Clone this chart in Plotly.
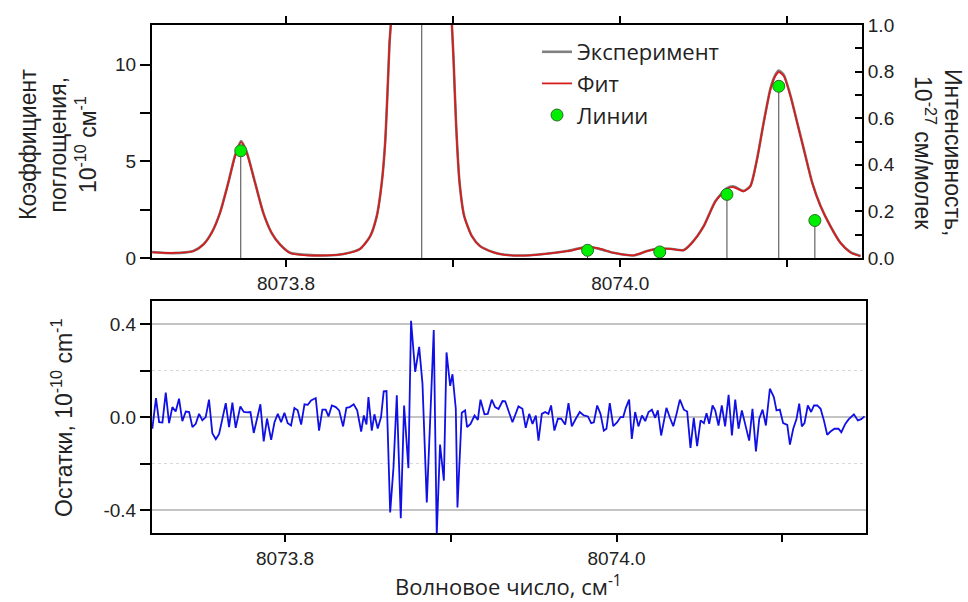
import plotly.graph_objects as go

# ---------------- data ----------------
fit_wn = [8073.7199, 8073.7325, 8073.7445, 8073.7505, 8073.7555, 8073.7605, 8073.7655, 8073.7695,
          8073.7731, 8073.7765, 8073.7814, 8073.7864, 8073.7914, 8073.7964, 8073.8024, 8073.8124,
          8073.8244, 8073.8343, 8073.8443, 8073.8503, 8073.8543, 8073.8573, 8073.8593, 8073.8607,
          8073.8619, 8073.8627, 8073.8653, 8073.8713, 8073.8813, 8073.8910, 8073.8964, 8073.8992,
          8073.9002, 8073.9018, 8073.9038, 8073.9066, 8073.9112, 8073.9162, 8073.9241, 8073.9281,
          8073.9401, 8073.9541, 8073.9681, 8073.9804, 8073.9880, 8073.9960, 8074.0080, 8074.0160,
          8074.0235, 8074.0299, 8074.0379, 8074.0429, 8074.0499, 8074.0569, 8074.0639, 8074.0679,
          8074.0738, 8074.0778, 8074.0818, 8074.0858, 8074.0898, 8074.0928, 8074.0948, 8074.0978,
          8074.1018, 8074.1058, 8074.1098, 8074.1148, 8074.1198, 8074.1257, 8074.1317, 8074.1377,
          8074.1437]
fit_val = [0.29, 0.26, 0.35, 0.69, 1.30, 2.33, 3.90, 5.27,
           5.99, 5.44, 3.90, 2.33, 1.30, 0.69, 0.26, 0.14,
           0.14, 0.20, 0.47, 1.12, 2.16, 3.90, 5.96, 8.55,
           11.1, 12.1, 16.0, 30.0, 45.0, 30.0, 16.0, 12.1,
           10.3, 6.8, 3.9, 2.16, 1.12, 0.60, 0.29, 0.20,
           0.12, 0.20, 0.35, 0.57, 0.47, 0.26, 0.14, 0.35,
           0.48, 0.47, 0.40, 0.78, 1.64, 2.92, 3.58, 3.66,
           3.45, 3.71, 5.10, 7.00, 8.72, 9.41, 9.62, 9.41,
           8.38, 7.00, 5.61, 3.89, 2.68, 1.64, 0.78, 0.29,
           0.09]
exp_val = [0.31, 0.25, 0.36, 0.70, 1.31, 2.35, 3.92, 5.30,
           6.05, 5.47, 3.92, 2.33, 1.29, 0.70, 0.27, 0.16,
           0.13, 0.21, 0.48, 1.12, 2.18, 3.92, 5.98, 8.57,
           11.1, 12.1, 16.0, 30.0, 45.0, 30.0, 16.0, 12.1,
           10.3, 6.8, 3.92, 2.17, 1.13, 0.61, 0.30, 0.21,
           0.13, 0.21, 0.36, 0.58, 0.46, 0.27, 0.13, 0.36,
           0.49, 0.48, 0.41, 0.79, 1.65, 2.95, 3.62, 3.70,
           3.47, 3.72, 5.12, 7.03, 8.76, 9.48, 9.70, 9.47,
           8.40, 7.02, 5.63, 3.90, 2.69, 1.65, 0.79, 0.30,
           0.10]

line_wn = [8073.7729, 8073.8812, 8073.9804, 8074.0236, 8074.0638, 8074.0948, 8074.1164]
line_int = [0.46, 2.0, 0.033, 0.026, 0.273, 0.737, 0.161]

res_wn = [8073.7199, 8073.7221, 8073.7240, 8073.7260, 8073.7280, 8073.7300, 8073.7320, 8073.7340,
          8073.7360, 8073.7380, 8073.7401, 8073.7421, 8073.7441, 8073.7461, 8073.7481, 8073.7501,
          8073.7521, 8073.7541, 8073.7561, 8073.7582, 8073.7602, 8073.7622, 8073.7642, 8073.7662,
          8073.7682, 8073.7702, 8073.7730, 8073.7751, 8073.7771, 8073.7791, 8073.7811, 8073.7851,
          8073.7871, 8073.7891, 8073.7916, 8073.7936, 8073.7956, 8073.7976, 8073.7996, 8073.8016,
          8073.8036, 8073.8056, 8073.8076, 8073.8097, 8073.8117, 8073.8137, 8073.8157, 8073.8185,
          8073.8205, 8073.8225, 8073.8245, 8073.8262, 8073.8282, 8073.8306, 8073.8326, 8073.8350,
          8073.8370, 8073.8390, 8073.8414, 8073.8435, 8073.8459, 8073.8475, 8073.8491, 8073.8503,
          8073.8523, 8073.8539, 8073.8559, 8073.8579, 8073.8595, 8073.8612, 8073.8634, 8073.8654,
          8073.8674, 8073.8698, 8073.8718, 8073.8744, 8073.8760, 8073.8785, 8073.8809, 8073.8829,
          8073.8855, 8073.8881, 8073.8897, 8073.8915, 8073.8935, 8073.8958, 8073.8974, 8073.8996,
          8073.9010, 8073.9030, 8073.9040, 8073.9066, 8073.9086, 8073.9098, 8073.9119, 8073.9143,
          8073.9163, 8073.9179, 8073.9203, 8073.9223, 8073.9247, 8073.9267, 8073.9288, 8073.9312,
          8073.9328,
          8073.9372, 8073.9408, 8073.9432, 8073.9452, 8073.9473, 8073.9493, 8073.9513, 8073.9529,
          8073.9549, 8073.9569, 8073.9589, 8073.9605, 8073.9625, 8073.9646, 8073.9666, 8073.9690,
          8073.9710, 8073.9730, 8073.9754, 8073.9778, 8073.9802, 8073.9827, 8073.9847, 8073.9863,
          8073.9883, 8073.9903, 8073.9923, 8073.9939, 8073.9959, 8073.9980, 8074.0004, 8074.0024,
          8074.0040, 8074.0056, 8074.0076, 8074.0092, 8074.0112, 8074.0132, 8074.0153, 8074.0173,
          8074.0193, 8074.0213, 8074.0233, 8074.0249, 8074.0269, 8074.0301, 8074.0322, 8074.0342,
          8074.0362, 8074.0382, 8074.0406, 8074.0426, 8074.0446, 8074.0466, 8074.0486, 8074.0507,
          8074.0527, 8074.0543, 8074.0559, 8074.0579, 8074.0595, 8074.0615, 8074.0635, 8074.0655,
          8074.0676, 8074.0696, 8074.0716, 8074.0736, 8074.0756, 8074.0780, 8074.0800, 8074.0820,
          8074.0841, 8074.0861, 8074.0881, 8074.0901, 8074.0925, 8074.0949, 8074.0965, 8074.0985,
          8074.1005, 8074.1030, 8074.1046, 8074.1066, 8074.1086, 8074.1102, 8074.1118, 8074.1134,
          8074.1154, 8074.1174, 8074.1191, 8074.1211, 8074.1231, 8074.1251, 8074.1271, 8074.1291,
          8074.1315, 8074.1339, 8074.1356, 8074.1380, 8074.1400, 8074.1432, 8074.1456, 8074.1476,
          8074.1496]
res_val = [-0.050, 0.082, -0.022, -0.023, 0.105, -0.026, 0.043, 0.024,
           0.079, -0.017, 0.024, 0.022, -0.043, -0.029, 0.014, -0.014,
           0.000, 0.075, -0.069, -0.095, -0.072, -0.007, 0.060, -0.043,
           0.062, -0.046, 0.046, 0.022, 0.020, 0.022, -0.068, 0.055,
           -0.104, -0.006, -0.098, -0.022, 0.014, -0.022, 0.019, -0.026,
           -0.036, 0.039, 0.029, -0.032, 0.055, 0.053, 0.072, 0.082,
           -0.058, 0.032, 0.032, 0.003, 0.050, 0.043, 0.029, -0.040,
           0.040, 0.043, 0.055, 0.029, -0.062, 0.007, -0.032, 0.086,
           -0.058, 0.012, -0.049, 0.000, 0.111, 0.112, -0.410, -0.216,
           0.094, -0.435, 0.050, -0.219, 0.414, 0.194, 0.302, 0.144,
           -0.367, 0.086, 0.374, -0.504, -0.118, -0.273, 0.278, 0.134,
           0.184, 0.036, -0.388, 0.019, 0.029, -0.043, -0.029, 0.007,
           -0.012, 0.075, 0.012, 0.014, 0.075, 0.043, 0.035, 0.069,
           0.068,
           -0.022, 0.046, 0.036, -0.046, 0.014, -0.029, 0.007, -0.101,
           0.014, 0.022, 0.014, 0.050, -0.058, -0.007, -0.007, -0.032,
           0.060, -0.040, -0.007, 0.022, 0.007, 0.003, -0.026, -0.022,
           0.050, 0.014, -0.058, -0.050, 0.060, -0.039, -0.022, 0.000,
           0.000, 0.040, 0.075, -0.094, 0.022, -0.040, 0.007, -0.017,
           0.022, 0.032, -0.003, 0.029, -0.079, 0.040, -0.003, -0.039,
           0.014, 0.075, 0.032, 0.024, -0.132, -0.003, -0.125, -0.014,
           -0.026, 0.017, -0.029, 0.050, 0.029, -0.036, 0.050, -0.040,
           0.096, -0.079, 0.075, -0.050, 0.029, -0.036, -0.101, 0.036,
           -0.147, -0.007, 0.032, -0.036, 0.122, 0.086, 0.029, 0.032,
           -0.026, -0.033, -0.118, -0.050, -0.007, 0.058, -0.040, -0.026,
           0.050, 0.022, 0.050, 0.050, 0.036, -0.014, -0.076, -0.062,
           -0.050, -0.050, -0.065, -0.029, -0.010, 0.012, -0.014, -0.009,
           0.003]

x_tick_vals = [8073.8, 8074.0]
x_tick_text = ["8073.8", "8074.0"]
res_tick_vals = [-0.4, 0.0, 0.4]
res_tick_text = ["-0.4", "0.0", "0.4"]

# ---------------- figure ----------------
W, H = 968, 602
def px(x):
    return x / W
def py(y):
    return 1 - y / H

fig = go.Figure()

fig.add_trace(go.Scatter(x=fit_wn, y=exp_val, mode="lines", name="Эксперимент",
                         line=dict(color="#808080", width=2.6, shape="spline", smoothing=0.6),
                         xaxis="x", yaxis="y"))
fig.add_trace(go.Scatter(x=fit_wn, y=fit_val, mode="lines", name="Фит",
                         line=dict(color="#d41e1e", width=1.8, shape="spline", smoothing=0.6),
                         xaxis="x", yaxis="y"))

stick_x, stick_y = [], []
for w, v in zip(line_wn, line_int):
    stick_x += [w, w, None]
    stick_y += [0, v, None]
fig.add_trace(go.Scatter(x=stick_x, y=stick_y, mode="lines", showlegend=False,
                         line=dict(color="#444444", width=1), xaxis="x", yaxis="y2"))
fig.add_trace(go.Scatter(x=line_wn, y=line_int, mode="markers", name="Линии",
                         marker=dict(color="#00ee00", size=12, line=dict(color="#2a6e2a", width=1)),
                         xaxis="x", yaxis="y2"))

fig.add_trace(go.Scatter(x=res_wn, y=res_val, mode="lines", showlegend=False,
                         line=dict(color="#1010e6", width=1.8), xaxis="x2", yaxis="y3"))

tick_font = dict(family="Liberation Sans", size=19, color="#222222")
title_font = dict(family="Liberation Sans", size=23, color="#222222")

common = dict(automargin=False, showgrid=False, zeroline=False, showline=True,
              linecolor="black", linewidth=2, tickcolor="black", tickwidth=2,
              tickfont=tick_font)

fig.update_layout(
    template="none",
    width=W, height=H, autosize=False,
    margin=dict(l=0, r=0, t=0, b=0, pad=0),
    paper_bgcolor="white", plot_bgcolor="white",
    showlegend=True,
    legend=dict(x=px(537), y=py(31), xanchor="left", yanchor="top",
                bgcolor="rgba(0,0,0,0)", borderwidth=0,
                font=dict(family="Open Sans", size=22, color="#222222"),
                tracegroupgap=0),
    xaxis=dict(domain=[px(152), px(862)], range=[8073.7198, 8074.1446], anchor="y",
               mirror="ticks", ticks="outside", ticklen=7,
               tickmode="array", tickvals=x_tick_vals, ticktext=x_tick_text,
               minor=dict(tick0=8073.7, dtick=0.1, ticks="outside",
                          ticklen=7, tickwidth=2, tickcolor="black", showgrid=False),
               **common),
    yaxis=dict(domain=[py(258), py(25)], range=[0, 12.05], anchor="x",
               ticks="outside", ticklen=10,
               tickmode="linear", tick0=0, dtick=5,
               minor=dict(tick0=0, dtick=2.5, ticks="outside", ticklen=10, tickwidth=2,
                          tickcolor="black", showgrid=False),
               **common),
    yaxis2=dict(overlaying="y", side="right", range=[0, 1.0], anchor="x",
                ticks="inside", ticklen=7,
                tickmode="linear", tick0=0, dtick=0.2, tickformat=".1f",
                minor=dict(tick0=0, dtick=0.1, ticks="inside", ticklen=7, tickwidth=2,
                           tickcolor="black", showgrid=False),
                **common),
    xaxis2=dict(domain=[px(152), px(866)], range=[8073.7197, 8074.1505], anchor="y3",
                mirror=True, ticks="outside", ticklen=7,
                tickmode="array", tickvals=x_tick_vals, ticktext=x_tick_text,
                minor=dict(tick0=8073.7, dtick=0.1, ticks="outside",
                           ticklen=7, tickwidth=2, tickcolor="black", showgrid=False),
                **common),
    yaxis3=dict(domain=[py(533), py(301)], range=[-0.498, 0.499], anchor="x2",
                mirror=True, ticks="outside", ticklen=10,
                tickmode="array", tickvals=res_tick_vals, ticktext=res_tick_text,
                minor=dict(tick0=0, dtick=0.2, ticks="outside",
                           ticklen=10, tickwidth=2, tickcolor="black",
                           showgrid=True, gridcolor="#d8d8d8", griddash="dot", gridwidth=1),
                **{k: v for k, v in common.items() if k != "showgrid"},
                showgrid=True, gridcolor="#c4c4c4", gridwidth=1.5),
)

fig.add_annotation(xref="paper", yref="paper", x=px(58), y=py(145), textangle=-90,
                   text="Коэффициент<br>поглощения,<br>10<sup>-10</sup> см<sup>-1</sup>",
                   showarrow=False, font=title_font, xanchor="center", yanchor="middle")
fig.add_annotation(xref="paper", yref="paper", x=px(938), y=py(152), textangle=90,
                   text="Интенсивность,<br>10<sup>-27</sup> см/молек",
                   showarrow=False, font=title_font,
                   xanchor="center", yanchor="middle")
fig.add_annotation(xref="paper", yref="paper", x=px(62), y=py(418), textangle=-90,
                   text="Остатки, 10<sup>-10</sup> cm<sup>-1</sup>",
                   showarrow=False, font=title_font, xanchor="center", yanchor="middle")
fig.add_annotation(xref="paper", yref="paper", x=px(508), y=py(585),
                   text="Волновое число, см<sup>-1</sup>",
                   showarrow=False, font=dict(family="Open Sans", size=22, color="#222222"),
                   xanchor="center", yanchor="middle")

fig.write_html("out.html")
